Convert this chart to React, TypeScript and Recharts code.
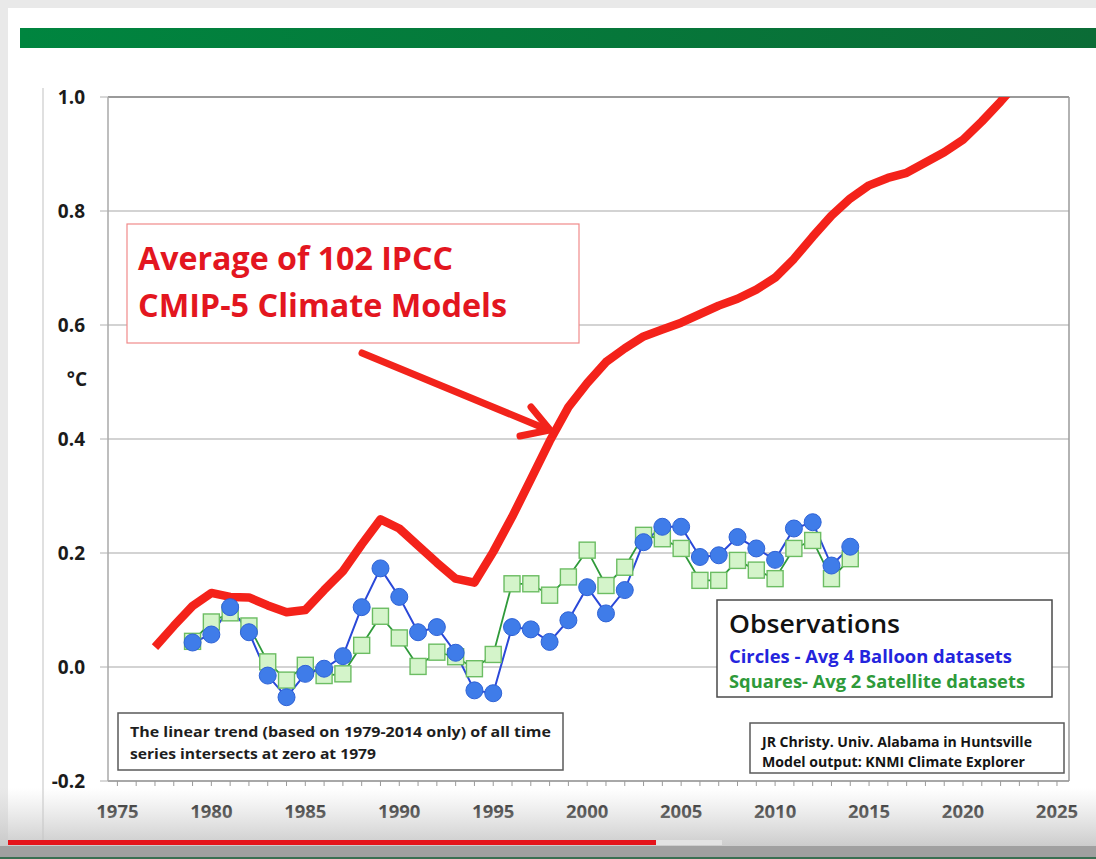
import React from "react";
import {
  LineChart,
  Line,
  XAxis,
  YAxis,
  CartesianGrid,
  ReferenceLine,
} from "recharts";

/* ── Data ───────────────────────────────────────────── */

const modelYears = [
  1977, 1978, 1979, 1980, 1981, 1982, 1983, 1984, 1985, 1986, 1987, 1988,
  1989, 1990, 1991, 1992, 1993, 1994, 1995, 1996, 1997, 1998, 1999, 2000,
  2001, 2002, 2003, 2004, 2005, 2006, 2007, 2008, 2009, 2010, 2011, 2012,
  2013, 2014, 2015, 2016, 2017, 2018, 2019, 2020, 2021, 2022, 2023,
];
const modelAvg = [
  0.035, 0.072, 0.107, 0.13, 0.123, 0.122, 0.108, 0.096, 0.1, 0.135, 0.168,
  0.215, 0.259, 0.243, 0.213, 0.183, 0.155, 0.148, 0.202, 0.263, 0.329,
  0.396, 0.456, 0.498, 0.535, 0.559, 0.58, 0.592, 0.604, 0.619, 0.634, 0.646,
  0.662, 0.683, 0.716, 0.755, 0.792, 0.822, 0.845, 0.858, 0.867, 0.885,
  0.903, 0.925, 0.957, 0.992, 1.03,
];

const obsYears = [
  1979, 1980, 1981, 1982, 1983, 1984, 1985, 1986, 1987, 1988, 1989, 1990,
  1991, 1992, 1993, 1994, 1995, 1996, 1997, 1998, 1999, 2000, 2001, 2002,
  2003, 2004, 2005, 2006, 2007, 2008, 2009, 2010, 2011, 2012, 2013, 2014,
];
const balloon = [
  0.043, 0.057, 0.105, 0.061, -0.015, -0.053, -0.012, -0.003, 0.019, 0.105,
  0.173, 0.123, 0.061, 0.07, 0.025, -0.041, -0.046, 0.07, 0.066, 0.044,
  0.082, 0.14, 0.094, 0.135, 0.219, 0.246, 0.246, 0.193, 0.196, 0.228,
  0.208, 0.188, 0.243, 0.254, 0.178, 0.211,
];
const satellite = [
  0.045, 0.079, 0.095, 0.072, 0.009, -0.023, 0.003, -0.015, -0.012, 0.038,
  0.089, 0.051, 0.001, 0.026, 0.018, -0.003, 0.022, 0.146, 0.146, 0.126,
  0.158, 0.205, 0.143, 0.175, 0.231, 0.225, 0.208, 0.152, 0.152, 0.187,
  0.17, 0.155, 0.208, 0.222, 0.155, 0.19,
];

const yTicks = [-0.2, 0, 0.2, 0.4, 0.6, 0.8, 1.0];
const xTicks = Array.from({ length: 51 }, (_, i) => 1975 + i);
const xDomain: [number, number] = [1974.5, 2025.64];

const modelData = modelYears.map((year, i) => ({ year, v: modelAvg[i] }));
const balloonData = obsYears.map((year, i) => ({ year, v: balloon[i] }));
const satelliteData = obsYears.map((year, i) => ({ year, v: satellite[i] }));

const FONT = "'Open Sans', 'DejaVu Sans', sans-serif";

/* ── Ticks and dots ─────────────────────────────────── */

function YTick({ x, y, payload }: any) {
  return (
    <text
      x={x}
      y={y}
      dy={7}
      textAnchor="end"
      fontFamily={FONT}
      fontWeight={700}
      fontSize={19}
      fill="#1b1b1b"
    >
      {Number(payload.value).toFixed(1)}
    </text>
  );
}

function XTick({ x, y, payload }: any) {
  if (payload.value % 5 !== 0) return <g />;
  return (
    <text
      x={x}
      y={y}
      dy={32}
      textAnchor="middle"
      fontFamily={FONT}
      fontWeight={700}
      fontSize={18.5}
      fill="#1b1b1b"
    >
      {payload.value}
    </text>
  );
}

function SquareDot({ cx, cy, index }: any) {
  if (cx == null || cy == null) return <g key={index} />;
  return (
    <rect
      key={index}
      x={cx - 8}
      y={cy - 8}
      width={16}
      height={16}
      fill="#d4f4ca"
      stroke="#6cbd63"
      strokeWidth={1.4}
    />
  );
}

/* ── Chart ──────────────────────────────────────────── */

export default function App() {
  return (
    <div
      style={{
        position: "absolute",
        left: 0,
        top: 0,
        width: 1096,
        height: 859,
        overflow: "hidden",
        background: "#e9e9e9",
      }}
    >
      <div
        style={{
          position: "absolute",
          left: 8,
          top: 8,
          width: 1088,
          height: 851,
          background: "#ffffff",
        }}
      />
      <svg
        width={1096}
        height={859}
        style={{ position: "absolute", left: 0, top: 0 }}
      >
        <defs>
          <linearGradient id="bar" x1="0" x2="1" y1="0" y2="0">
            <stop offset="0" stopColor="#00853f" />
            <stop offset="1" stopColor="#0b6c36" />
          </linearGradient>
        </defs>
        <rect x={20} y={28} width={1076} height={20} fill="url(#bar)" />
        <line x1={43} y1={88} x2={43} y2={840} stroke="#d6d6d6" strokeWidth={1.5} />
      </svg>

      <div style={{ position: "absolute", left: 0, top: 0 }}>
        <LineChart
          width={1096}
          height={859}
          margin={{ top: 97, right: 27, bottom: 48, left: 48 }}
        >
          <CartesianGrid
            vertical={false}
            stroke="#c4c4c4"
            strokeWidth={1.5}
          />
          <XAxis
            type="number"
            dataKey="year"
            domain={xDomain}
            ticks={xTicks}
            interval={0}
            height={30}
            tickSize={5}
            tickMargin={0}
            tick={<XTick />}
            axisLine={{ stroke: "#9a9a9a", strokeWidth: 1.5 }}
            tickLine={{ stroke: "#9a9a9a" }}
            allowDataOverflow
          />
          <YAxis
            type="number"
            domain={[-0.2, 1.0]}
            ticks={yTicks}
            width={60}
            tickSize={8}
            tickMargin={15}
            tick={<YTick />}
            axisLine={{ stroke: "#a8a8a8", strokeWidth: 1.5 }}
            tickLine={{ stroke: "#b0b0b0" }}
            allowDataOverflow
          />
          <ReferenceLine y={1.0} stroke="#9a9a9a" strokeWidth={2} />
          <ReferenceLine x={xDomain[1]} stroke="#9a9a9a" strokeWidth={1.5} />
          <Line
            data={modelData}
            dataKey="v"
            type="linear"
            stroke="#f4221a"
            strokeWidth={8.5}
            strokeLinejoin="round"
            dot={false}
            isAnimationActive={false}
          />
          <Line
            data={satelliteData}
            dataKey="v"
            type="linear"
            stroke="#2f9a3a"
            strokeWidth={1.8}
            dot={<SquareDot />}
            isAnimationActive={false}
          />
          <Line
            data={balloonData}
            dataKey="v"
            type="linear"
            stroke="#2a48d8"
            strokeWidth={2}
            dot={{ r: 8.5, fill: "#3f7ce9", stroke: "#2e62d6", strokeWidth: 1 }}
            isAnimationActive={false}
          />
        </LineChart>
      </div>

      <svg
        width={1096}
        height={859}
        style={{ position: "absolute", left: 0, top: 0, pointerEvents: "none" }}
      >
        <defs>
          <linearGradient id="fade" x1="0" x2="0" y1="0" y2="1">
            <stop offset="0" stopColor="#cfcfcf" stopOpacity={0} />
            <stop offset="1" stopColor="#c4c4c4" stopOpacity={0.9} />
          </linearGradient>
        </defs>

        {/* °C unit */}
        <text x={87} y={386} textAnchor="end" fontFamily={FONT} fontWeight={700} fontSize={19} fill="#1b1b1b">
          °C
        </text>

        {/* model annotation */}
        <rect x={127} y={224} width={452} height={119} fill="#ffffff" stroke="#f08a8a" strokeWidth={1.2} />
        <text x={138} y={270} fontFamily={FONT} fontWeight={700} fontSize={33} fill="#e3161f" textLength={315} lengthAdjust="spacingAndGlyphs">
          Average of 102 IPCC
        </text>
        <text x={138} y={317} fontFamily={FONT} fontWeight={700} fontSize={33} fill="#e3161f" textLength={369} lengthAdjust="spacingAndGlyphs">
          CMIP-5 Climate Models
        </text>
        <line x1={362} y1={353} x2={546} y2={429} stroke="#f2231b" strokeWidth={7} strokeLinecap="round" />
        <polyline points="531,407 550,430 520,436" fill="none" stroke="#f2231b" strokeWidth={7} strokeLinejoin="miter" strokeLinecap="round" />

        {/* observations legend */}
        <rect x={717} y={600} width={335} height={97} fill="#ffffff" stroke="#4a4a4a" strokeWidth={1.5} />
        <text x={729} y={633} fontFamily={FONT} fontWeight={600} fontSize={25} fill="#121212" textLength={171} lengthAdjust="spacingAndGlyphs">
          Observations
        </text>
        <text x={729} y={663} fontFamily={FONT} fontWeight={700} fontSize={17} fill="#2424dd" textLength={283} lengthAdjust="spacingAndGlyphs">
          Circles - Avg 4 Balloon datasets
        </text>
        <text x={729} y={688} fontFamily={FONT} fontWeight={700} fontSize={17} fill="#2e9a3a" textLength={296} lengthAdjust="spacingAndGlyphs">
          Squares- Avg 2 Satellite datasets
        </text>

        {/* source box */}
        <rect x={750} y={723} width={314} height={50} fill="#ffffff" stroke="#5a5a5a" strokeWidth={1.5} />
        <text x={762} y={747} fontFamily={FONT} fontWeight={700} fontSize={14} fill="#151515" textLength={270} lengthAdjust="spacingAndGlyphs">
          JR Christy. Univ. Alabama in Huntsville
        </text>
        <text x={762} y={767} fontFamily={FONT} fontWeight={700} fontSize={14} fill="#151515" textLength={263} lengthAdjust="spacingAndGlyphs">
          Model output: KNMI Climate Explorer
        </text>

        {/* trend note */}
        <rect x={118} y={713} width={445} height={57} fill="#ffffff" stroke="#5a5a5a" strokeWidth={1.5} />
        <text x={130} y={737} fontFamily={FONT} fontWeight={700} fontSize={14.5} fill="#1e1e1e" textLength={421} lengthAdjust="spacingAndGlyphs">
          The linear trend (based on 1979-2014 only) of all time
        </text>
        <text x={130} y={759} fontFamily={FONT} fontWeight={700} fontSize={14.5} fill="#1e1e1e" textLength={246} lengthAdjust="spacingAndGlyphs">
          series intersects at zero at 1979
        </text>

        {/* video player strip */}
        <rect x={0} y={788} width={1096} height={60} fill="url(#fade)" />
        <rect x={0} y={846} width={1096} height={13} fill="#a0a0a0" />
        <rect x={0} y={857} width={1096} height={2} fill="#3a6f52" />
        <rect x={8} y={840} width={648} height={5} fill="#e5131b" />
        <rect x={656} y={840} width={66} height={5} fill="#e2e2e2" />
      </svg>
    </div>
  );
}
